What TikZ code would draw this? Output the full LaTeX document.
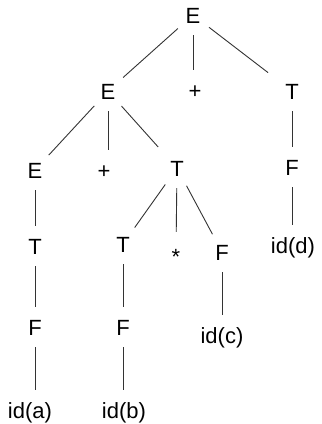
\documentclass[tikz,border=0pt]{standalone}
\usepackage{fontspec}
\setmainfont{Liberation Sans}
\begin{document}
\begin{tikzpicture}[x=1pt, y=-1pt,
  sym/.style={circle, minimum size=40pt, inner sep=0pt,
    font=\fontsize{22}{26}\selectfont, text height=16pt, text depth=0pt},
  leaf/.style={rectangle, inner xsep=2pt, inner ysep=12pt,
    font=\fontsize{22}{26}\selectfont, text height=16pt, text depth=0pt},
  branch/.style={draw=black!80, line width=0.9pt}]
\useasboundingbox (0,0) rectangle (322,424);

% level 0 and 1
\node[sym] (r)   at (193,15)  {E};
\node[sym] (e2)  at (108,91)  {E};
\node[sym] (p1)  at (195,90)  {+};
\node[sym] (t1)  at (292,91)  {T};
% level 2
\node[sym] (e3)  at (35,170)  {E};
\node[sym] (p2)  at (104,170) {+};
\node[sym] (t2)  at (177,168) {T};
\node[sym] (f1)  at (292,167) {F};
% level 3
\node[sym] (t3)  at (35,246)  {T};
\node[sym] (t4)  at (123,244) {T};
\node[sym] (st)  at (176,252) {\raisebox{-4.5pt}{*}};
\node[sym] (f2)  at (222,252) {F};
\node[leaf] (idd) at (293,245) {id(d)};
% level 4
\node[sym] (f3)  at (35,327)  {F};
\node[sym] (f4)  at (123,327) {F};
\node[leaf] (idc) at (222,335) {id(c)};
% level 5
\node[leaf] (ida) at (30,410)  {id(a)};
\node[leaf] (idb) at (124,410) {id(b)};

% slanted branches
\draw[branch] (r) -- (e2);
\draw[branch] (r) -- (r |- p1.north);
\draw[branch, shorten >=10pt] (r) -- (t1);
\draw[branch] (e2) -- (e3);
\draw[branch] (e2) -- (e2 |- p2.north);
\draw[branch, shorten >=8pt] (e2) -- (t2);
\draw[branch] (t2) -- (t4);
\draw[branch] (t2) -- (st);
\draw[branch] (t2) -- (f2);

% vertical chains
\draw[branch] (t1) -- (f1);
\draw[branch] (f1.south) -- (f1.south |- idd.north);
\draw[branch] (e3) -- (t3);
\draw[branch] (t3) -- (f3);
\draw[branch] (f3.south) -- (f3.south |- ida.north);
\draw[branch] (t4) -- (f4);
\draw[branch] (f4.south) -- (f4.south |- idb.north);
\draw[branch] (f2.south) -- (f2.south |- idc.north);
\end{tikzpicture}
\end{document}
